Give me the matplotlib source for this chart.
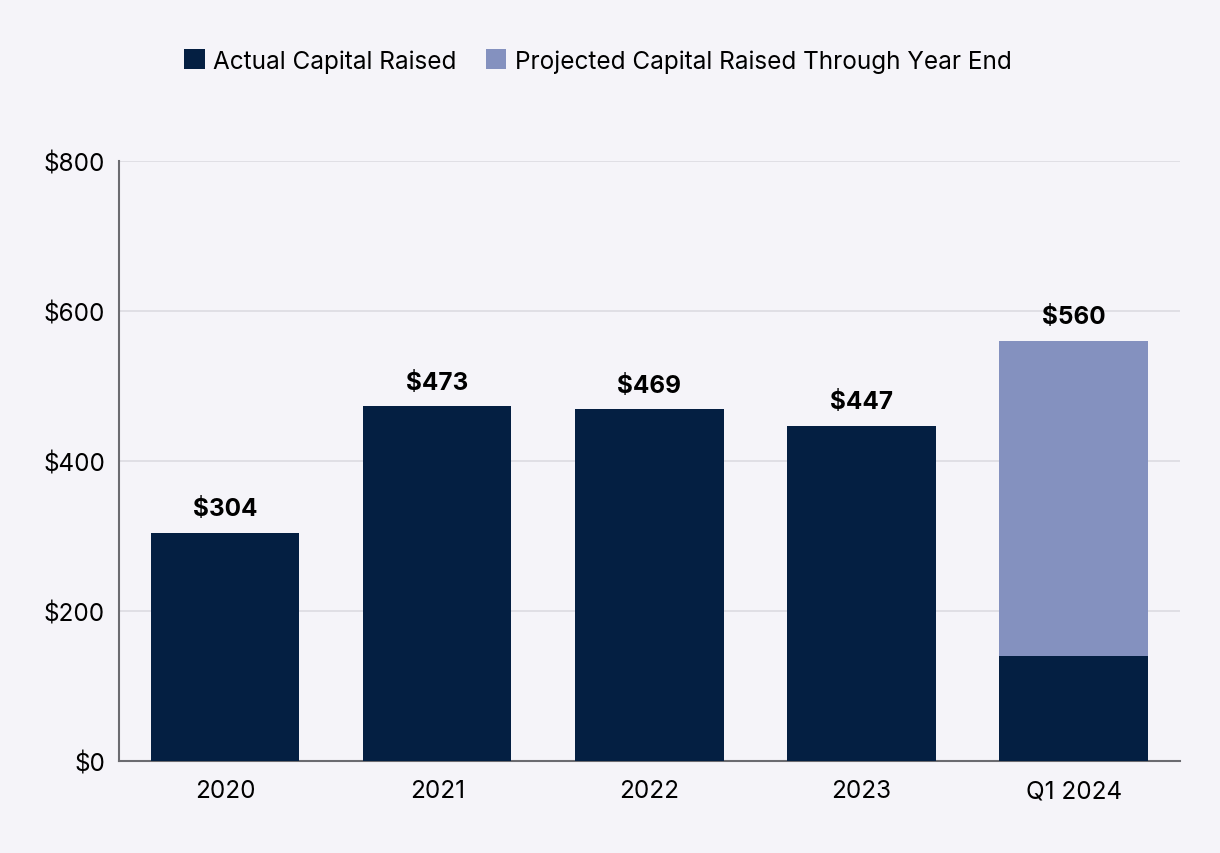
import numpy as np
import matplotlib.pyplot as plt

categories = ["2020", "2021", "2022", "2023", "Q1 2024"]
actual = [304, 473, 469, 447, 140]
projected = [0, 0, 0, 0, 420]
totals = [304, 473, 469, 447, 560]
yticks = [0, 200, 400, 600, 800]

bg = "#f5f4f9"
dark = "#041f42"
light = "#8491bf"

plt.rcParams['font.family'] = ['Inter', 'DejaVu Sans']

fig = plt.figure(figsize=(12.2, 8.54), dpi=100, facecolor=bg)
ax = fig.add_axes([0.0975, 0.1077, 0.8695, 0.7026], facecolor=bg)

x = np.arange(len(categories))
ax.bar(x, actual, width=0.7, color=dark, label="Actual Capital Raised", zorder=3)
ax.bar(x, projected, width=0.7, bottom=actual, color=light,
       label="Projected Capital Raised Through Year End", zorder=3)

for xi, t in zip(x, totals):
    ax.text(xi, t + 17, f"${t}", ha="center", va="bottom", fontsize=17.5,
            fontweight="bold", color="black")

ax.set_xlim(-0.5, 4.5)
ax.set_ylim(0, 800)
ax.set_yticks(yticks)
ax.set_yticklabels([f"${v}" for v in yticks])
ax.set_xticks(x)
ax.set_xticklabels(categories)
ax.tick_params(axis="both", length=0, labelsize=17.5, colors="black")
ax.tick_params(axis="y", pad=10)
ax.tick_params(axis="x", pad=13)
ax.grid(axis="y", color="#dcdbe2", linewidth=1.2, zorder=0)

for s in ["top", "right"]:
    ax.spines[s].set_visible(False)
for s in ["left", "bottom"]:
    ax.spines[s].set_color("#6b6b70")
    ax.spines[s].set_linewidth(1.5)

fig.legend(loc="upper center", bbox_to_anchor=(0.49, 0.967), ncol=2, frameon=False,
           fontsize=17.5, handlelength=0.85, handleheight=0.85, handletextpad=0.35,
           columnspacing=1.2)

fig.savefig("out.png", dpi=100, facecolor=bg)
